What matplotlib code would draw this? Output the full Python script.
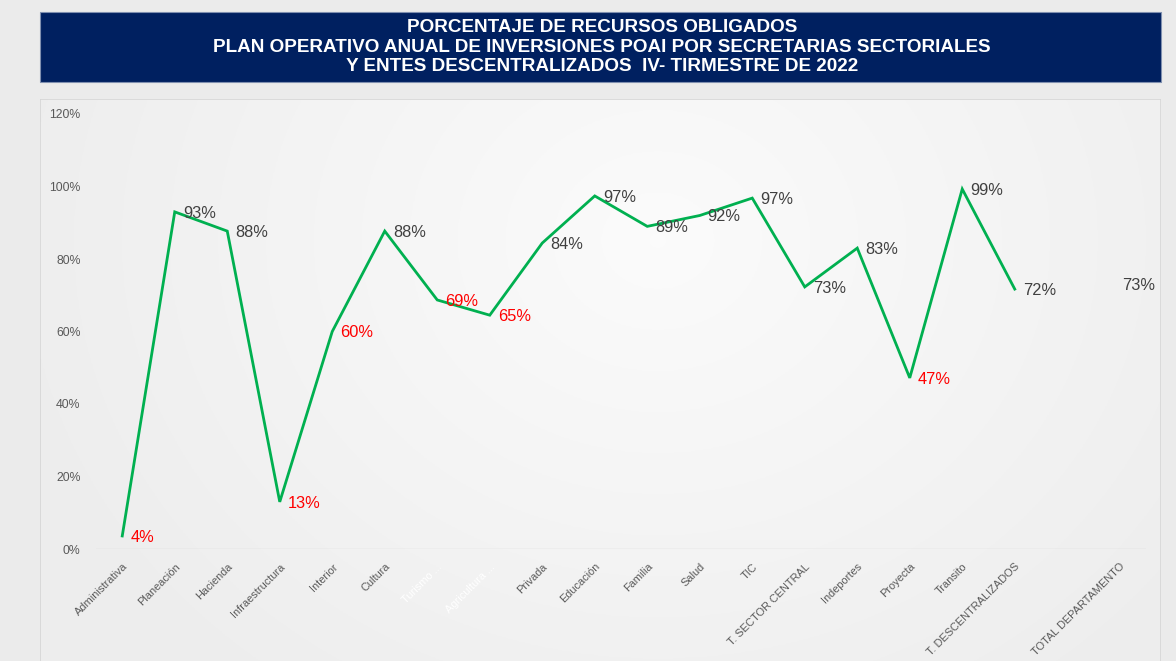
import numpy as np
import matplotlib
matplotlib.use("Agg")
import matplotlib.pyplot as plt
from matplotlib.patches import Rectangle

categories = ["Administrativa", "Planeación", "Hacienda", "Infraestructura", "Interior",
              "Cultura", "Turismo ...", "Agricultura ...", "Privada", "Educación", "Familia",
              "Salud", "TIC", "T. SECTOR CENTRAL", "Indeportes", "Proyecta", "Transito",
              "T. DESCENTRALIZADOS", "", "TOTAL DEPARTAMENTO"]
values = [3.6, 93.0, 87.7, 13.0, 60.0, 87.7, 68.7, 64.5, 84.4, 97.4, 89.0, 92.0, 96.8,
          72.3, 83.0, 47.2, 99.3, 71.7, np.nan, 73.0]
labels = ["4%", "93%", "88%", "13%", "60%", "88%", "69%", "65%", "84%", "97%", "89%", "92%",
          "97%", "73%", "83%", "47%", "99%", "72%", "", "73%"]
drawn = [True] * 18 + [False, False]
hidden_ticks = ["Turismo ...", "Agricultura ..."]
yticks = [0, 20, 40, 60, 80, 100, 120]
title_lines = ["PORCENTAJE DE RECURSOS OBLIGADOS",
               "PLAN OPERATIVO ANUAL DE INVERSIONES POAI POR SECRETARIAS SECTORIALES",
               "Y ENTES DESCENTRALIZADOS  IV- TIRMESTRE DE 2022"]

plt.rcParams['font.family'] = ['Liberation Sans', 'DejaVu Sans']
W, H = 1176, 661
fig = plt.figure(figsize=(W / 100, H / 100), dpi=100)
fig.patch.set_facecolor('#ebebeb')

def fx(px):
    return px / W

def fy(py):
    return 1 - py / H

# background frame with radial gradient (extends past the bottom edge)
bg = fig.add_axes([fx(40), -0.02, fx(1161) - fx(40), fy(99) + 0.02])
bg.set_axis_off()
ny, nx = 200, 400
yy, xx = np.mgrid[0:ny, 0:nx]
cx, cy = nx * 0.55, ny * 0.75
r = np.sqrt(((xx - cx) / nx) ** 2 + ((yy - cy) / ny * 0.6) ** 2)
r = np.clip(r / 0.6, 0, 1)
c0 = np.array([0.985, 0.985, 0.985])
c1 = np.array([0.93, 0.93, 0.93])
img = c0[None, None, :] * (1 - r[..., None]) + c1[None, None, :] * r[..., None]
bg.imshow(img, aspect='auto', extent=[0, 1, 0, 1], origin='lower')
bg.add_patch(Rectangle((0, 0), 1, 1.0, transform=bg.transAxes, fill=False,
                       edgecolor='#d6d6d6', lw=1.2))
bg.set_xlim(0, 1)
bg.set_ylim(0, 1)

# title box
fig.patches.append(Rectangle((fx(40), fy(82)), fx(1161) - fx(40), fy(12) - fy(82),
                             transform=fig.transFigure, facecolor='#002060',
                             edgecolor='#8090b0', lw=0.8, zorder=1))
for i, t in enumerate(title_lines):
    fig.text(fx(602), fy(27.5 + 19.5 * i), t, ha='center', va='center', color='white',
             fontsize=13.6, fontweight='bold', zorder=2)

ax = fig.add_axes([fx(96), fy(549), fx(1146) - fx(96), fy(114) - fy(549)])
ax.set_facecolor('none')
n = len(categories)
x = np.arange(n)
ax.set_xlim(-0.5, n - 0.5)
ax.set_ylim(0, 120)

line_vals = [v if d else np.nan for v, d in zip(values, drawn)]
ax.plot(x, line_vals, color='#00b050', lw=2.0, solid_joinstyle='miter', zorder=3)
ax.axhline(0, color='#d9d9d9', lw=1.0, zorder=1)

for xi, v, lab, d in zip(x, values, labels, drawn):
    if not lab:
        continue
    col = '#ff0000' if v < 70 else '#404040'
    dx = 8 if d else 2
    ax.annotate(lab, (xi, v), xytext=(dx * 0.72, -1), textcoords='offset points',
                ha='left', va='center', fontsize=11.8, color=col, zorder=4)

for s in ax.spines.values():
    s.set_visible(False)
ax.set_yticks(yticks)
ax.set_yticklabels([f"{t}%" for t in yticks], fontsize=8.8, color='#595959')
ax.tick_params(axis='y', length=0, pad=11)
ax.set_xticks(x)
ax.set_xticklabels(categories, rotation=45, ha='right', rotation_mode='anchor',
                   fontsize=7.9, color='#595959')
ax.tick_params(axis='x', length=0, pad=9)
for tl in ax.get_xticklabels():
    if tl.get_text() in hidden_ticks:
        tl.set_color('white')

fig.savefig('out.png', dpi=100, facecolor=fig.get_facecolor())
